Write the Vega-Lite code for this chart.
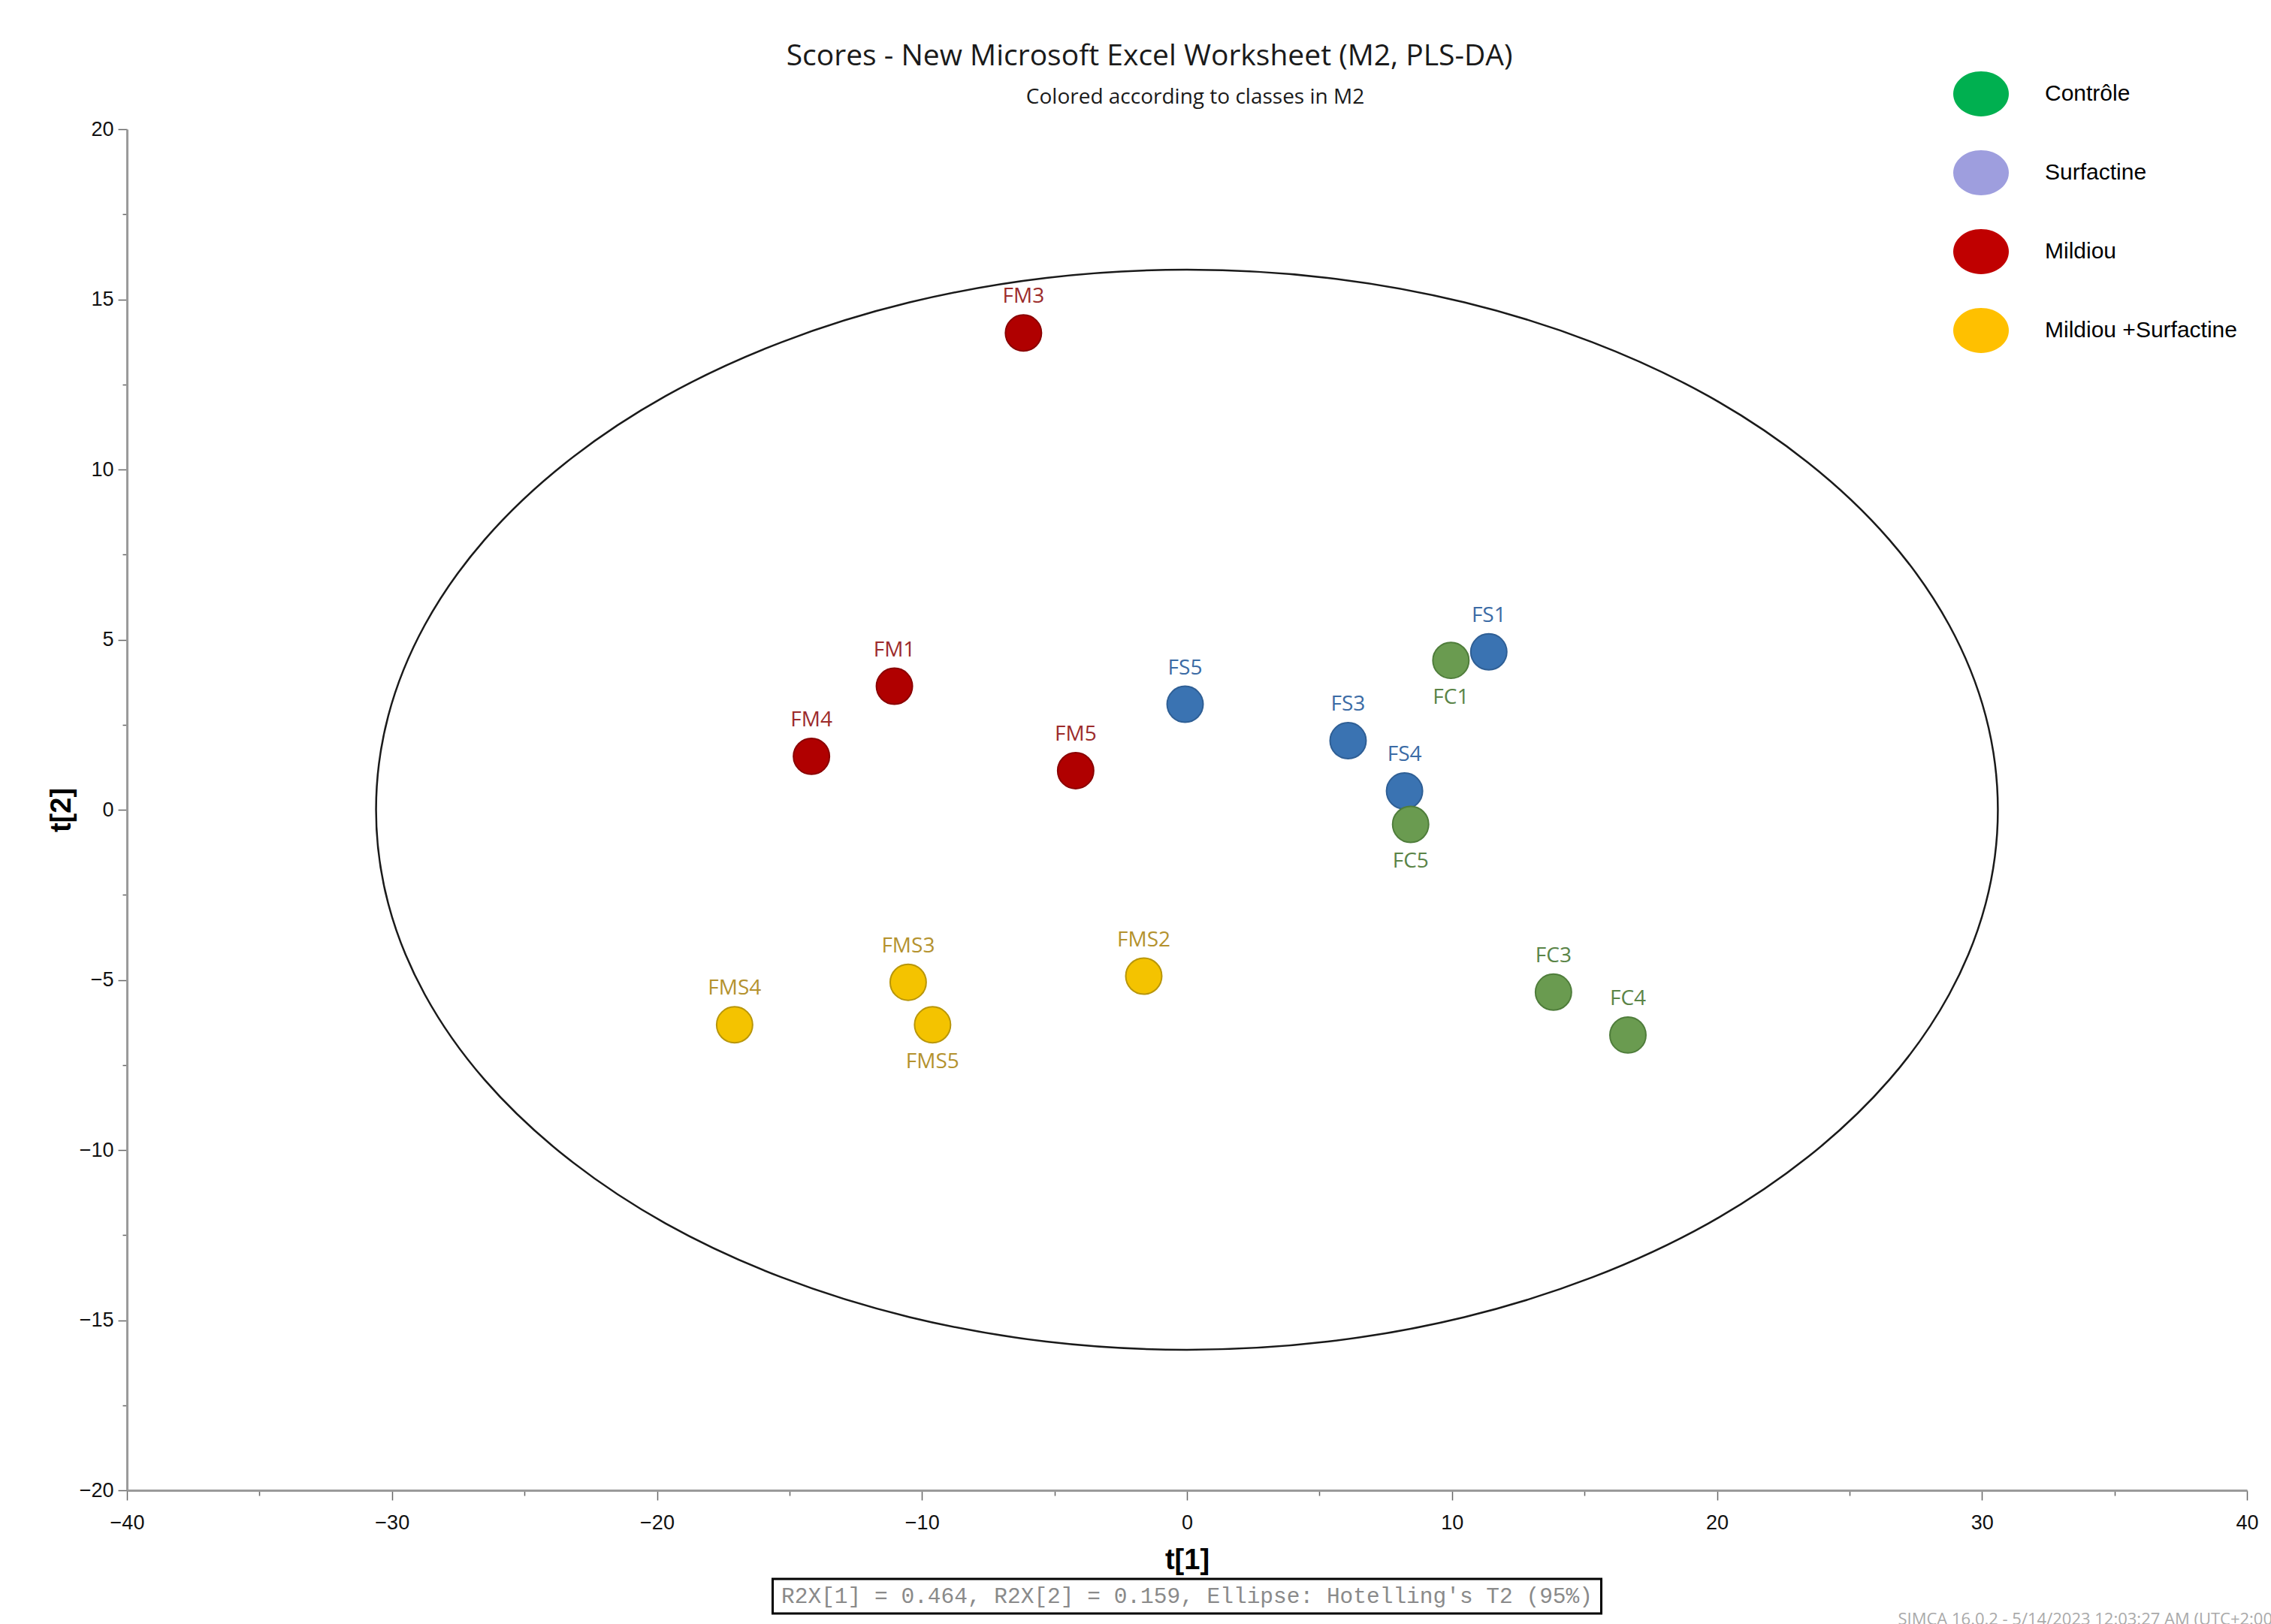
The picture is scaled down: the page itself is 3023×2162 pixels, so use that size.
{
  "$schema": "https://vega.github.io/schema/vega-lite/v6.json",
  "autosize": "pad",
  "padding": {"left": 63, "top": 56, "right": 0, "bottom": 0},
  "background": "white",
  "bounds": "flush",
  "spacing": 118,
  "center": true,
  "config": {"view": {"stroke": null}, "font": "Liberation Sans"},
  "title": {
    "text": "Scores - New Microsoft Excel Worksheet (M2, PLS-DA)",
    "font": "Open Sans",
    "fontSize": 39,
    "fontWeight": "normal",
    "color": "#1a1a1a",
    "anchor": "middle",
    "dx": -18,
    "offset": -7
  },
  "datasets": {
    "scores": [
      {"id": "FM3", "class": "Mildiou", "t1": -6.17, "t2": 14.01},
      {"id": "FM1", "class": "Mildiou", "t1": -11.04, "t2": 3.63},
      {"id": "FM4", "class": "Mildiou", "t1": -14.17, "t2": 1.57},
      {"id": "FM5", "class": "Mildiou", "t1": -4.2, "t2": 1.15},
      {"id": "FS5", "class": "Surfactine", "t1": -0.07, "t2": 3.1},
      {"id": "FS3", "class": "Surfactine", "t1": 6.08, "t2": 2.03},
      {"id": "FS1", "class": "Surfactine", "t1": 11.39, "t2": 4.64},
      {"id": "FS4", "class": "Surfactine", "t1": 8.21, "t2": 0.55},
      {"id": "FC1", "class": "Contrôle", "t1": 9.96, "t2": 4.39},
      {"id": "FC5", "class": "Contrôle", "t1": 8.44, "t2": -0.43},
      {"id": "FC3", "class": "Contrôle", "t1": 13.83, "t2": -5.36},
      {"id": "FC4", "class": "Contrôle", "t1": 16.64, "t2": -6.62},
      {"id": "FMS2", "class": "Mildiou +Surfactine", "t1": -1.63, "t2": -4.89},
      {"id": "FMS3", "class": "Mildiou +Surfactine", "t1": -10.52, "t2": -5.07},
      {"id": "FMS5", "class": "Mildiou +Surfactine", "t1": -9.6, "t2": -6.32},
      {"id": "FMS4", "class": "Mildiou +Surfactine", "t1": -17.07, "t2": -6.32}
    ],
    "ellipse": [
      {"i": 0, "t1": 30.6, "t2": 0},
      {"i": 1, "t1": 30.14, "t2": 2.76},
      {"i": 2, "t1": 28.76, "t2": 5.43},
      {"i": 3, "t1": 26.5, "t2": 7.94},
      {"i": 4, "t1": 23.44, "t2": 10.2},
      {"i": 5, "t1": 19.67, "t2": 12.16},
      {"i": 6, "t1": 15.3, "t2": 13.74},
      {"i": 7, "t1": 10.47, "t2": 14.91},
      {"i": 8, "t1": 5.31, "t2": 15.63},
      {"i": 9, "t1": 0, "t2": 15.87},
      {"i": 10, "t1": -5.31, "t2": 15.63},
      {"i": 11, "t1": -10.47, "t2": 14.91},
      {"i": 12, "t1": -15.3, "t2": 13.74},
      {"i": 13, "t1": -19.67, "t2": 12.16},
      {"i": 14, "t1": -23.44, "t2": 10.2},
      {"i": 15, "t1": -26.5, "t2": 7.94},
      {"i": 16, "t1": -28.76, "t2": 5.43},
      {"i": 17, "t1": -30.14, "t2": 2.76},
      {"i": 18, "t1": -30.6, "t2": 0},
      {"i": 19, "t1": -30.14, "t2": -2.76},
      {"i": 20, "t1": -28.76, "t2": -5.43},
      {"i": 21, "t1": -26.5, "t2": -7.94},
      {"i": 22, "t1": -23.44, "t2": -10.2},
      {"i": 23, "t1": -19.67, "t2": -12.16},
      {"i": 24, "t1": -15.3, "t2": -13.74},
      {"i": 25, "t1": -10.47, "t2": -14.91},
      {"i": 26, "t1": -5.31, "t2": -15.63},
      {"i": 27, "t1": 0, "t2": -15.87},
      {"i": 28, "t1": 5.31, "t2": -15.63},
      {"i": 29, "t1": 10.47, "t2": -14.91},
      {"i": 30, "t1": 15.3, "t2": -13.74},
      {"i": 31, "t1": 19.67, "t2": -12.16},
      {"i": 32, "t1": 23.44, "t2": -10.2},
      {"i": 33, "t1": 26.5, "t2": -7.94},
      {"i": 34, "t1": 28.76, "t2": -5.43},
      {"i": 35, "t1": 30.14, "t2": -2.76}
    ]
  },
  "vconcat": [
    {
      "width": 2822,
      "height": 1812,
      "title": {
        "text": "Colored according to classes in M2",
        "font": "Open Sans",
        "fontSize": 28,
        "fontWeight": "normal",
        "color": "#1a1a1a",
        "anchor": "middle",
        "dx": 11,
        "offset": 14.5
      },
      "layer": [
        {
          "data": {"name": "ellipse"},
          "mark": {"type": "line", "interpolate": "cardinal-closed", "color": "#1a1a1a", "strokeWidth": 2.5},
          "encoding": {
            "x": {
              "field": "t1", "type": "quantitative",
              "scale": {"domain": [-40, 40], "nice": false, "zero": false},
              "axis": {
                "title": "t[1]",
                "values": [-40, -35, -30, -25, -20, -15, -10, -5, 0, 5, 10, 15, 20, 25, 30, 35, 40],
                "labelExpr": "datum.value % 10 === 0 ? datum.label : ''",
                "tickSize": {"condition": {"test": "datum.value % 10 !== 0", "value": 7}, "value": 13},
                "grid": false,
                "domainColor": "#9a9a9a", "domainWidth": 3,
                "tickColor": "#666", "tickWidth": 1.5,
                "labelFont": "Liberation Sans", "labelFontSize": 27, "labelColor": "#111",
                "labelPadding": 17, "labelFlush": false, "labelOverlap": false,
                "titleFont": "Liberation Sans", "titleFontSize": 38, "titleFontWeight": "bold",
                "titleColor": "#000", "titlePadding": 18
              }
            },
            "y": {
              "field": "t2", "type": "quantitative",
              "scale": {"domain": [-20, 20], "nice": false, "zero": false},
              "axis": {
                "title": "t[2]",
                "values": [-20, -17.5, -15, -12.5, -10, -7.5, -5, -2.5, 0, 2.5, 5, 7.5, 10, 12.5, 15, 17.5, 20],
                "labelExpr": "datum.value % 5 === 0 ? datum.label : ''",
                "tickSize": {"condition": {"test": "datum.value % 5 !== 0", "value": 6}, "value": 12},
                "grid": false,
                "domainColor": "#9a9a9a", "domainWidth": 3,
                "tickColor": "#666", "tickWidth": 1.5,
                "labelFont": "Liberation Sans", "labelFontSize": 27, "labelColor": "#111",
                "labelPadding": 6, "labelFlush": false, "labelOverlap": false,
                "titleFont": "Liberation Sans", "titleFontSize": 38, "titleFontWeight": "bold",
                "titleColor": "#000", "titlePadding": 4
              }
            },
            "order": {"field": "i", "type": "quantitative"}
          }
        },
        {
          "mark": {"type": "rule", "color": "#555", "strokeWidth": 1.6},
          "encoding": {"x": {"datum": 0, "type": "quantitative"}}
        },
        {
          "mark": {"type": "rule", "color": "#555", "strokeWidth": 1.6},
          "encoding": {"y": {"datum": 0, "type": "quantitative"}}
        },
        {
          "data": {"name": "scores"},
          "mark": {"type": "point", "filled": true, "shape": "circle", "size": 2300, "strokeWidth": 2, "opacity": 1},
          "encoding": {
            "x": {"field": "t1", "type": "quantitative"},
            "y": {"field": "t2", "type": "quantitative"},
            "fill": {
              "condition": [
                {"test": "datum['class'] === 'Contrôle'", "value": "#6A9B50"},
                {"test": "datum['class'] === 'Surfactine'", "value": "#3A73B2"},
                {"test": "datum['class'] === 'Mildiou'", "value": "#B00000"}
              ],
              "value": "#F4C300"
            },
            "stroke": {
              "condition": [
                {"test": "datum['class'] === 'Contrôle'", "value": "#4F7D3B"},
                {"test": "datum['class'] === 'Surfactine'", "value": "#2F5F95"},
                {"test": "datum['class'] === 'Mildiou'", "value": "#8A0000"}
              ],
              "value": "#B8960A"
            }
          }
        },
        {
          "data": {"name": "scores"},
          "mark": {"type": "point", "filled": true, "opacity": 0},
          "encoding": {
            "x": {"field": "t1", "type": "quantitative"},
            "y": {"field": "t2", "type": "quantitative"},
            "color": {
              "field": "class", "type": "nominal",
              "scale": {"domain": ["Contrôle", "Surfactine", "Mildiou", "Mildiou +Surfactine"], "range": ["#00B050", "#9E9EDE", "#C00000", "#FFC000"]},
              "legend": {
                "orient": "none", "legendX": 2431, "legendY": -84,
                "title": null,
                "symbolType": "M-1,0A1,0.81,0,1,1,1,0A1,0.81,0,1,1,-1,0Z",
                "symbolSize": 5476, "symbolOpacity": 1, "symbolStrokeWidth": 0,
                "labelFont": "Liberation Sans", "labelFontSize": 30, "labelColor": "#000",
                "labelLimit": 0,
                "labelOffset": 48, "rowPadding": 38, "padding": 0
              }
            }
          }
        },
        {
          "data": {"name": "scores"},
          "transform": [{"filter": {"not": {"field": "id", "oneOf": ["FC1", "FC5", "FMS5"]}}}],
          "mark": {"type": "text", "dy": -48, "font": "Open Sans", "fontSize": 28},
          "encoding": {
            "x": {"field": "t1", "type": "quantitative"},
            "y": {"field": "t2", "type": "quantitative"},
            "text": {"field": "id"},
            "color": {
              "condition": [
                {"test": "datum['class'] === 'Contrôle'", "value": "#5A8447"},
                {"test": "datum['class'] === 'Surfactine'", "value": "#3B6BA5"},
                {"test": "datum['class'] === 'Mildiou'", "value": "#9C2B2B"}
              ],
              "value": "#B4922E"
            }
          }
        },
        {
          "data": {"name": "scores"},
          "transform": [{"filter": {"field": "id", "oneOf": ["FC1", "FC5", "FMS5"]}}],
          "mark": {"type": "text", "dy": 50, "font": "Open Sans", "fontSize": 28},
          "encoding": {
            "x": {"field": "t1", "type": "quantitative"},
            "y": {"field": "t2", "type": "quantitative"},
            "text": {"field": "id"},
            "color": {
              "condition": [
                {"test": "datum['class'] === 'Contrôle'", "value": "#5A8447"},
                {"test": "datum['class'] === 'Surfactine'", "value": "#3B6BA5"},
                {"test": "datum['class'] === 'Mildiou'", "value": "#9C2B2B"}
              ],
              "value": "#B4922E"
            }
          }
        }
      ]
    },
    {
      "width": 1103,
      "height": 46,
      "view": {"stroke": "#000", "strokeWidth": 3},
      "data": {"values": [{"note": "R2X[1] = 0.464, R2X[2] = 0.159, Ellipse: Hotelling's T2 (95%)"}]},
      "title": {
        "text": "SIMCA 16.0.2 - 5/14/2023 12:03:27 AM (UTC+2:00)",
        "orient": "bottom", "anchor": "start", "dx": 1498, "offset": -2,
        "font": "Open Sans", "fontSize": 22, "fontWeight": "normal", "color": "#aaaaaa"
      },
      "mark": {"type": "text", "font": "Liberation Mono", "fontSize": 29.5, "color": "#8a8a8a"},
      "encoding": {"text": {"field": "note"}}
    }
  ]
}
